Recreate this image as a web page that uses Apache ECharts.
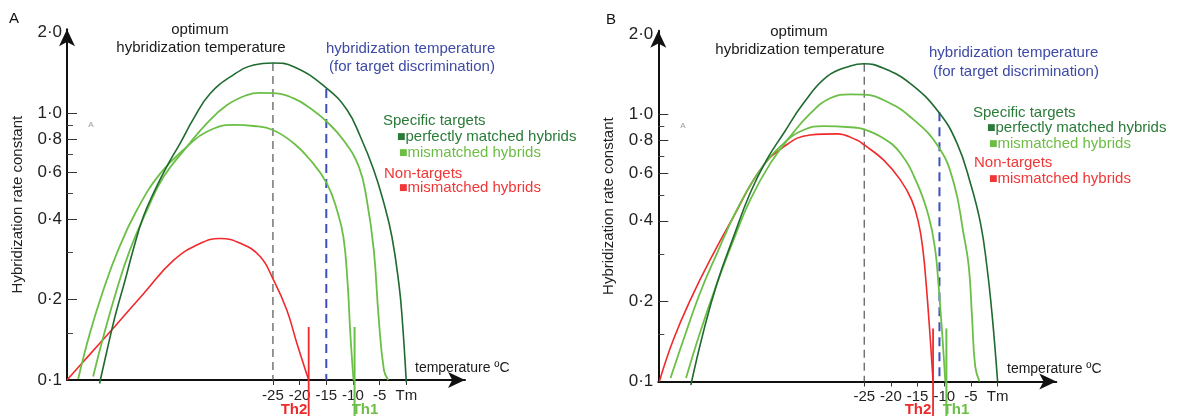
<!DOCTYPE html>
<html><head><meta charset="utf-8">
<script src="https://cdn.jsdelivr.net/npm/echarts@6/dist/echarts.min.js"></script>
<style>html,body{margin:0;padding:0;background:#fff}#c{width:1178px;height:416px}</style>
</head><body><div id="c"></div>
<script>
// ---------- axis ticks ----------
const xTicks = [-25, -20, -15, -10, -5, 0];
const xTickLabels = ['-25', '-20', '-15', '-10', '-5', 'Tm'];
const yTicks = [0.1, 0.2, 0.4, 0.6, 0.8, 1.0, 2.0];
const yTickLabels = ['0·1', '0·2', '0·4', '0·6', '0·8', '1·0', '2·0'];
const yMajorTickMarks = [0.2, 0.4, 0.6, 0.8, 1.0];
const yMinorTicks = [0.15, 0.3, 0.5, 0.7, 0.9];

// ---------- Panel A ----------
const aPerfectT = [-57.5, -56.1, -54.6, -52.7, -51.2, -49.3, -47.1, -44.9, -42.4, -39.9, -36.8, -32.4, -28.6, -25, -21.1, -14.9, -11.1, -8.6, -6.1, -4.2, -2.7, -1.4, -0.8, 0];
const aPerfectV = [0.097, 0.129, 0.173, 0.237, 0.307, 0.409, 0.515, 0.630, 0.770, 0.95, 1.18, 1.39, 1.513, 1.54, 1.491, 1.237, 1.026, 0.815, 0.612, 0.459, 0.344, 0.230, 0.173, 0.098];
const aMis1T = [-58.7, -56.8, -54.3, -51.8, -48.6, -45.5, -41.1, -37.4, -33.6, -29.9, -27.5, -25, -21.1, -18.0, -14.9, -11.8, -8.9, -7.4, -6.1, -5.2, -4.2, -3.4];
const aMis1V = [0.103, 0.145, 0.217, 0.307, 0.433, 0.577, 0.748, 0.915, 1.071, 1.167, 1.19, 1.186, 1.135, 1.042, 0.928, 0.792, 0.630, 0.472, 0.307, 0.173, 0.109, 0.1];
const aMis2T = [-61.5, -59.3, -56.8, -54.0, -50.5, -46.1, -41.1, -37.4, -32.4, -28.6, -25, -21.1, -18.0, -14.9, -13.0, -11.8, -11.0, -10.5, -9.9];
const aMis2V = [0.101, 0.150, 0.217, 0.307, 0.433, 0.594, 0.748, 0.851, 0.902, 0.894, 0.864, 0.770, 0.667, 0.545, 0.433, 0.344, 0.230, 0.150, 0.1];
const aNonT = [-63.6, -59.9, -54.6, -49.3, -43.6, -38.6, -34.9, -31.1, -27.4, -24.9, -22.4, -20.5, -18.3];
const aNonV = [0.1, 0.121, 0.159, 0.21, 0.281, 0.325, 0.339, 0.325, 0.290, 0.237, 0.183, 0.137, 0.1];
const aOptT = -25, aOptTop = 1.54;
const aDiscT = -15, aDiscTop = 1.23;
const aTh2T = -18.3, aTh1T = -9.7;

// ---------- Panel B ----------
const bPerfectT = [-57.5, -55.2, -52.6, -49.5, -46.4, -43.3, -40.1, -36.4, -32.0, -27.6, -25, -21.4, -16.4, -11.1, -7.6, -5.1, -3.2, -2.0, -1.0, 0];
const bPerfectV = [0.097, 0.152, 0.233, 0.348, 0.507, 0.676, 0.851, 1.101, 1.386, 1.520, 1.55, 1.490, 1.308, 1.024, 0.780, 0.553, 0.391, 0.269, 0.175, 0.1];
const bMis1T = [-58.4, -55.8, -52.6, -49.5, -46.4, -42.6, -38.9, -35.1, -31.4, -27.6, -25, -21.4, -16.4, -11.1, -8.2, -6.4, -5.4, -4.8, -4.2, -3.4];
const bMis1V = [0.103, 0.152, 0.233, 0.339, 0.478, 0.656, 0.826, 1.01, 1.15, 1.19, 1.186, 1.133, 0.981, 0.757, 0.553, 0.359, 0.269, 0.175, 0.114, 0.1];
const bMis2T = [-61.3, -58.9, -55.8, -52.6, -48.9, -44.5, -40.1, -36.4, -32.6, -27.6, -25, -21.4, -18.2, -15.1, -12.9, -11.7, -11.1, -10.4, -9.8];
const bMis2V = [0.103, 0.143, 0.214, 0.302, 0.439, 0.620, 0.780, 0.875, 0.905, 0.896, 0.880, 0.814, 0.716, 0.553, 0.414, 0.311, 0.233, 0.152, 0.1];
const bNonT = [-63.4, -60.8, -57.3, -53.6, -49.5, -44.5, -40.1, -35.1, -30.1, -26.4, -25, -21.4, -18.2, -16.1, -14.8, -14.0, -13.4, -12.7, -12.1];
const bNonV = [0.1, 0.143, 0.208, 0.293, 0.414, 0.620, 0.757, 0.838, 0.846, 0.802, 0.769, 0.676, 0.568, 0.478, 0.391, 0.311, 0.233, 0.152, 0.1];
const bOptT = -25, bOptTop = 1.55;
const bDiscT = -10.9, bDiscTop = 1.02;
const bTh2T = -12.1, bTh1T = -9.6;

const thTop = 0.158, thBottom = 0.072;

// ---------- styling ----------
const C_DARK = '#1f6a30', C_LIGHT = '#6cbf46', C_RED = '#f0292b', C_BLUE = '#3b50bd', C_GRAY = '#555';
const T_DARK = '#2a7a38', T_LIGHT = '#6cbd44', T_RED = '#f03636', T_BLUE = '#3d4aa5';
const FONT = '"Liberation Sans", Arial, sans-serif';

const zip = (t, v) => t.map((x, i) => [x, v[i]]);
const labelFor = (vals, labs) => (val) => {
  for (let i = 0; i < vals.length; i++) if (Math.abs(vals[i] - val) < 1e-6) return labs[i];
  return '';
};

const panels = [
  {grid: {left: 67, top: 29.2, width: 398, height: 350.8},
   perfect: zip(aPerfectT, aPerfectV), mis1: zip(aMis1T, aMis1V), mis2: zip(aMis2T, aMis2V), non: zip(aNonT, aNonV),
   opt: [[aOptT, aOptTop], [aOptT, 0.1]], disc: [[aDiscT, aDiscTop], [aDiscT, 0.1]],
   th2: [[aTh2T, thTop], [aTh2T, thBottom]], th1: [[aTh1T, thTop], [aTh1T, thBottom]]},
  {grid: {left: 658.3, top: 30.7, width: 398, height: 350.8},
   perfect: zip(bPerfectT, bPerfectV), mis1: zip(bMis1T, bMis1V), mis2: zip(bMis2T, bMis2V), non: zip(bNonT, bNonV),
   opt: [[bOptT, bOptTop], [bOptT, 0.1]], disc: [[bDiscT, bDiscTop], [bDiscT, 0.1]],
   th2: [[bTh2T, thTop], [bTh2T, thBottom]], th1: [[bTh1T, thTop], [bTh1T, thBottom]]}
];

const grid = [], xAxis = [], yAxis = [], series = [];
panels.forEach((p, i) => {
  grid.push(p.grid);
  xAxis.push({
    type: 'value', gridIndex: i, min: -63.6, max: 11,
    axisLine: {show: true, onZero: false, symbol: ['none', 'arrow'], symbolSize: [12, 17], lineStyle: {color: '#111', width: 2}},
    axisTick: {show: true, customValues: xTicks, length: 5, lineStyle: {color: '#333', width: 1}},
    axisLabel: {show: true, customValues: xTicks, formatter: labelFor(xTicks, xTickLabels), fontSize: 15, fontFamily: FONT, color: '#222', margin: 8},
    splitLine: {show: false}
  });
  yAxis.push({
    type: 'log', logBase: 10, gridIndex: i, min: 0.1, max: 2.06, position: 'left',
    name: 'Hybridization rate constant', nameLocation: 'middle', nameGap: 42,
    nameTextStyle: {fontSize: 15, fontFamily: FONT, color: '#222'},
    axisLine: {show: true, onZero: false, symbol: ['none', 'arrow'], symbolSize: [12, 17], lineStyle: {color: '#111', width: 2}},
    axisTick: {show: true, inside: true, customValues: yMajorTickMarks, length: 10, lineStyle: {color: '#333', width: 1}},
    axisLabel: {show: true, customValues: yTicks, formatter: labelFor(yTicks, yTickLabels), fontSize: 17, fontFamily: FONT, color: '#222', margin: 5},
    splitLine: {show: false}
  });
  yAxis.push({
    type: 'log', logBase: 10, gridIndex: i, min: 0.1, max: 2.06, position: 'left',
    axisLine: {show: false, onZero: false},
    axisTick: {show: true, inside: true, customValues: yMinorTicks, length: 6, lineStyle: {color: '#444', width: 1}},
    axisLabel: {show: false}, splitLine: {show: false}
  });
  const base = {type: 'line', xAxisIndex: i, yAxisIndex: i * 2, symbol: 'none', clip: false, silent: true, animation: false};
  const sm = {smooth: 0.45};
  series.push(Object.assign({}, base, {data: p.opt, lineStyle: {color: C_GRAY, width: 1.2, type: [8, 5]}}));
  series.push(Object.assign({}, base, {data: p.disc, lineStyle: {color: C_BLUE, width: 2, type: [9, 6]}}));
  series.push(Object.assign({}, base, sm, {data: p.non, lineStyle: {color: C_RED, width: 1.6}}));
  series.push(Object.assign({}, base, sm, {data: p.mis2, lineStyle: {color: C_LIGHT, width: 1.8}}));
  series.push(Object.assign({}, base, sm, {data: p.mis1, lineStyle: {color: C_LIGHT, width: 1.8}}));
  series.push(Object.assign({}, base, sm, {data: p.perfect, lineStyle: {color: C_DARK, width: 1.6}}));
  series.push(Object.assign({}, base, {data: p.th2, lineStyle: {color: C_RED, width: 1.8}}));
  series.push(Object.assign({}, base, {data: p.th1, lineStyle: {color: C_LIGHT, width: 2}}));
});

function txt(text, x, y, fill, size, align, extra) {
  return {
    type: 'text', x: x, y: y, silent: true,
    style: Object.assign({text: text, fill: fill, fontSize: size, fontFamily: FONT,
      align: align, textAlign: align, verticalAlign: 'middle', textVerticalAlign: 'middle'}, (extra || {}))
  };
}
const sqRich = (c) => ({sq: {fontSize: 9, fill: c, fontFamily: 'DejaVu Sans', verticalAlign: 'middle'}, t: {fontSize: 15, fill: c, fontFamily: FONT}});

const notes = [
  {letter: 'A', letterX: 14, letterY: 19,
   optX: 200, optY1: 30, optY2: 48, blueX: 326, blueY1: 49, blueX2: 329, blueY2: 67,
   legX: 383, legY: [121, 137, 153, 174, 188], tempX: 415, tempY: 368, th2X: 294, th1X: 365, smallAX: 91, smallAY: 125},
  {letter: 'B', letterX: 611, letterY: 20,
   optX: 799, optY1: 32, optY2: 50, blueX: 929, blueY1: 53, blueX2: 933, blueY2: 72,
   legX: 973, legY: [113, 128, 144, 163, 179], tempX: 1007, tempY: 369, th2X: 918, th1X: 956, smallAX: 683, smallAY: 126}
];
const graphic = [];
notes.forEach(n => {
  graphic.push(txt(n.letter, n.letterX, n.letterY, '#111', 15, 'center'));
  graphic.push(txt('A', n.smallAX, n.smallAY, '#999', 8, 'center'));
  graphic.push(txt('optimum', n.optX, n.optY1, '#1a1a1a', 15, 'center'));
  graphic.push(txt('hybridization temperature', n.optX + 1, n.optY2, '#1a1a1a', 15, 'center'));
  graphic.push(txt('hybridization temperature', n.blueX, n.blueY1, T_BLUE, 15, 'left'));
  graphic.push(txt('(for target discrimination)', n.blueX2, n.blueY2, T_BLUE, 15, 'left'));
  graphic.push(txt('Specific targets', n.legX, n.legY[0], T_DARK, 15, 'left'));
  graphic.push(txt('{sq|■}{t|perfectly matched hybrids}', n.legX + 14, n.legY[1], T_DARK, 15, 'left', {rich: sqRich(T_DARK)}));
  graphic.push(txt('{sq|■}{t|mismatched hybrids}', n.legX + 16, n.legY[2], T_LIGHT, 15, 'left', {rich: sqRich(T_LIGHT)}));
  graphic.push(txt('Non-targets', n.legX + 1, n.legY[3], T_RED, 15, 'left'));
  graphic.push(txt('{sq|■}{t|mismatched hybrids}', n.legX + 16, n.legY[4], T_RED, 15, 'left', {rich: sqRich(T_RED)}));
  graphic.push(txt('temperature ºC', n.tempX, n.tempY, '#1a1a1a', 14, 'left'));
  graphic.push(txt('Th2', n.th2X, 410, C_RED, 15, 'center', {fontWeight: 'bold'}));
  graphic.push(txt('Th1', n.th1X, 410, C_LIGHT, 15, 'center', {fontWeight: 'bold'}));
});

const chart = echarts.init(document.getElementById('c'), null, {renderer: 'canvas'});
chart.setOption({
  animation: false,
  backgroundColor: '#fff',
  grid: grid, xAxis: xAxis, yAxis: yAxis, series: series, graphic: graphic
});
</script></body></html>
